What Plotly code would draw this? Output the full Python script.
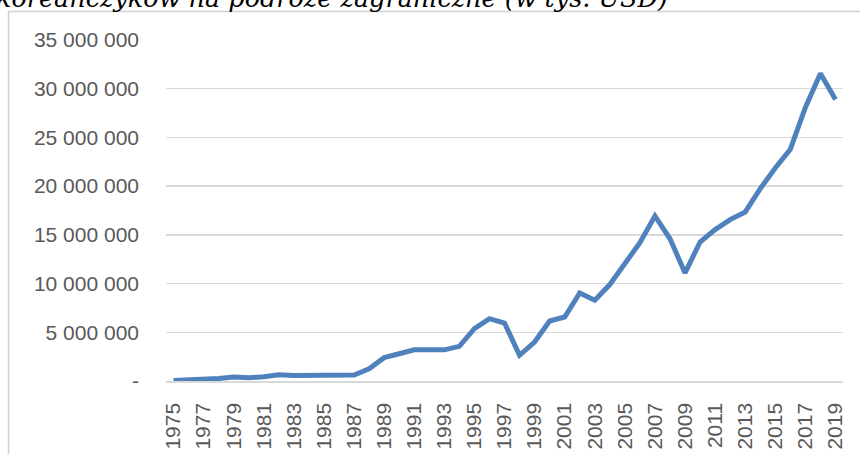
import plotly.graph_objects as go

years = [str(y) for y in range(1975, 2020)]
values = [
    50000, 100000, 160000, 250000, 400000, 340000, 430000, 630000, 560000, 560000,
    580000, 590000, 620000, 1250000, 2400000, 2800000, 3200000, 3200000, 3200000, 3560000,
    5380000, 6400000, 5950000, 2640000, 4000000, 6160000, 6570000, 9030000, 8290000, 9900000,
    12050000, 14200000, 16940000, 14600000, 11090000, 14270000, 15540000, 16570000, 17350000, 19750000,
    21870000, 23790000, 28070000, 31560000, 28890000,
]
y_tickvals = [0, 5000000, 10000000, 15000000, 20000000, 25000000, 30000000, 35000000]
y_ticktext = ["-", "5 000 000", "10 000 000", "15 000 000", "20 000 000",
              "25 000 000", "30 000 000", "35 000 000"]
x_tickvals = [str(y) for y in range(1975, 2020, 2)]
title_text = "koreańczyków na podróże zagraniczne (w tys. USD)"

W, H = 860, 454
L, R, T, B = 166, 17, 40, 73
pw, ph = W - L - R, H - T - B

def px_x(x):
    return (x - L) / pw

def px_y(y):
    return (H - B - y) / ph

fig = go.Figure()
fig.add_trace(go.Scatter(
    x=years, y=values, mode="lines",
    line=dict(color="#4f81bd", width=5),
    hoverinfo="skip", showlegend=False,
))

border = dict(color="#d0d0d0", width=1.5)

fig.update_layout(
    width=W, height=H,
    margin=dict(l=L, r=R, t=T, b=B, autoexpand=False),
    paper_bgcolor="white", plot_bgcolor="white",
    font=dict(family="Liberation Sans", size=21, color="#595959"),
    xaxis=dict(
        type="category", range=[-0.5, len(years) - 0.5], automargin=False,
        tickmode="array", tickvals=x_tickvals, ticktext=x_tickvals,
        tickangle=-90, showgrid=False, showline=True, linecolor="#d9d9d9", linewidth=1.5,
        ticks="", ticklabelstandoff=12, fixedrange=True,
    ),
    yaxis=dict(
        range=[0, 35000000], tickmode="array", tickvals=y_tickvals, ticktext=y_ticktext,
        automargin=False,
        showgrid=True, gridcolor="#d9d9d9", gridwidth=1.5, zeroline=False,
        showline=False, ticks="", ticklabelstandoff=26, fixedrange=True,
    ),
    shapes=[
        dict(type="line", xref="paper", yref="paper",
             x0=px_x(8.5), x1=px_x(860), y0=px_y(11.5), y1=px_y(11.5),
             line=border, layer="above"),
        dict(type="line", xref="paper", yref="paper",
             x0=px_x(8.5), x1=px_x(8.5), y0=px_y(11.5), y1=px_y(454),
             line=border, layer="above"),
    ],
    annotations=[dict(
        text=title_text, xref="paper", yref="paper",
        x=px_x(670), y=px_y(15), xanchor="right", yanchor="bottom",
        showarrow=False,
        font=dict(family="DejaVu Serif", size=25.5, color="black", style="italic"),
    )],
)

fig.write_html(
    "out.html",
    config={"displayModeBar": False, "staticPlot": True},
    post_script="document.body.style.margin='0';document.body.style.overflow='hidden';",
)
